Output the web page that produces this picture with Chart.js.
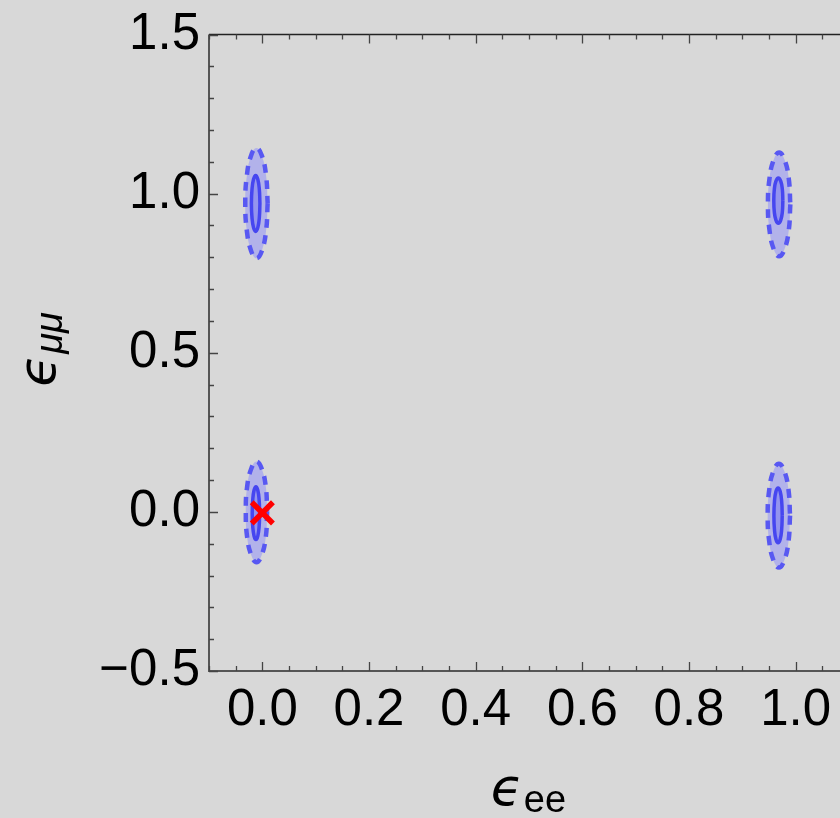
<!DOCTYPE html>
<html>
<head>
<meta charset="utf-8">
<script src="https://cdn.jsdelivr.net/npm/chart.js@4.4.0/dist/chart.umd.min.js"></script>
<style>
  html, body { margin: 0; padding: 0; overflow: hidden; background: #d8d8d8; }
  #wrap { width: 870px; height: 818px; }
</style>
</head>
<body>
<div id="wrap"><canvas id="c" width="870" height="818"></canvas></div>
<script>
// ---- Tick labels ----
const xTickValues = [0.0, 0.2, 0.4, 0.6, 0.8, 1.0];
const yTickValues = [-0.5, 0.0, 0.5, 1.0, 1.5];
const xRange = [-0.1, 1.1];
const yRange = [-0.5, 1.5];

// ---- Contours, each loop starts on its right side ----
// top-left region (eps_ee ~ 0, eps_mumu ~ 1)
const tlOuterX = [0.010, 0.007, -0.001, -0.011, -0.021, -0.029, -0.032, -0.029, -0.021, -0.011, -0.001, 0.007, 0.010];
const tlOuterY = [0.970, 0.883, 0.820, 0.797, 0.820, 0.883, 0.970, 1.057, 1.120, 1.143, 1.120, 1.057, 0.970];
const tlInnerX = [-0.0045, -0.0056, -0.0085, -0.0125, -0.0165, -0.0194, -0.0205, -0.0194, -0.0165, -0.0125, -0.0085, -0.0056, -0.0045];
const tlInnerY = [0.969, 0.925, 0.893, 0.881, 0.893, 0.925, 0.969, 1.013, 1.045, 1.057, 1.045, 1.013, 0.969];
// bottom-left region (0, 0)
const blOuterX = [0.009, 0.0065, -0.0015, -0.011, -0.0205, -0.0285, -0.031, -0.0285, -0.0205, -0.011, -0.0015, 0.0065, 0.009];
const blOuterY = [0.000, -0.079, -0.137, -0.158, -0.137, -0.079, 0.000, 0.079, 0.137, 0.158, 0.137, 0.079, 0.000];
const blInnerX = [-0.005, -0.006, -0.0085, -0.012, -0.0155, -0.018, -0.019, -0.018, -0.0155, -0.012, -0.0085, -0.006, -0.005];
const blInnerY = [-0.004, -0.046, -0.076, -0.087, -0.076, -0.046, -0.004, 0.038, 0.068, 0.079, 0.068, 0.038, -0.004];
// top-right region (1, 1)
const trOuterX = [0.990, 0.987, 0.979, 0.969, 0.959, 0.951, 0.948, 0.951, 0.959, 0.969, 0.979, 0.987, 0.990];
const trOuterY = [0.966, 0.884, 0.825, 0.803, 0.825, 0.884, 0.966, 1.048, 1.107, 1.129, 1.107, 1.048, 0.966];
const trInnerX = [0.976, 0.975, 0.972, 0.9675, 0.963, 0.960, 0.959, 0.960, 0.963, 0.9675, 0.972, 0.975, 0.976];
const trInnerY = [0.978, 0.942, 0.917, 0.907, 0.917, 0.942, 0.978, 1.014, 1.039, 1.049, 1.039, 1.014, 0.978];
// bottom-right region (1, 0)
const brOuterX = [0.9895, 0.9865, 0.9785, 0.9685, 0.9585, 0.9505, 0.9475, 0.9505, 0.9585, 0.9685, 0.9785, 0.9865, 0.9895];
const brOuterY = [-0.012, -0.094, -0.153, -0.175, -0.153, -0.094, -0.012, 0.070, 0.129, 0.151, 0.129, 0.070, -0.012];
const brInnerX = [0.9748, 0.9738, 0.971, 0.967, 0.963, 0.9602, 0.9592, 0.9602, 0.963, 0.967, 0.971, 0.9738, 0.9748];
const brInnerY = [-0.011, -0.054, -0.086, -0.097, -0.086, -0.054, -0.011, 0.032, 0.064, 0.075, 0.064, 0.032, -0.011];

// true point
const truePointX = [0.0];
const truePointY = [-0.003];

const xTitle = 'ϵ', xTitleSub = 'ee';
const yTitle = 'ϵ', yTitleSub = 'μμ';

function pts(xs, ys) { return xs.map((x, i) => ({ x: x, y: ys[i] })); }

const OUTER_FILL = 'rgb(178,178,234)';
const INNER_FILL = 'rgb(148,148,238)';
const OUTER_LINE = 'rgb(88,88,242)';
const INNER_LINE = 'rgb(70,70,240)';

function outerDs(xs, ys) {
  return { data: pts(xs, ys), showLine: true, fill: 'shape', backgroundColor: OUTER_FILL,
    borderColor: OUTER_LINE, borderWidth: 4.5, borderDash: [9, 7], tension: 0.45,
    pointRadius: 0, order: 3 };
}
function innerDs(xs, ys) {
  return { data: pts(xs, ys), showLine: true, fill: 'shape', backgroundColor: INNER_FILL,
    borderColor: INNER_LINE, borderWidth: 3.5, tension: 0.45, pointRadius: 0, order: 2 };
}

const framePlugin = {
  id: 'frame',
  afterDatasetsDraw(chart) {
    const ctx = chart.ctx, a = chart.chartArea;
    const xs = chart.scales.x, ys = chart.scales.y;
    ctx.save();
    ctx.strokeStyle = '#555';
    ctx.lineWidth = 2;
    ctx.beginPath();
    ctx.moveTo(a.left, a.top); ctx.lineTo(a.left, a.bottom); ctx.lineTo(a.right, a.bottom);
    ctx.stroke();
    ctx.strokeStyle = '#222';
    ctx.lineWidth = 1.5;
    ctx.beginPath();
    ctx.moveTo(a.left, a.top); ctx.lineTo(a.right, a.top); ctx.lineTo(a.right, a.bottom);
    ctx.stroke();
    ctx.strokeStyle = '#444';
    ctx.lineWidth = 1.3;
    ctx.beginPath();
    for (let i = -2; i <= 22; i++) {
      const v = i * 0.05;
      if (v < xRange[0] - 1e-9 || v > xRange[1] + 1e-9) continue;
      const major = i % 4 === 0;
      const L = major ? 9 : 5;
      const px = Math.round(xs.getPixelForValue(v)) + 0.5;
      ctx.moveTo(px, a.bottom); ctx.lineTo(px, a.bottom - L);
      ctx.moveTo(px, a.top); ctx.lineTo(px, a.top + L);
    }
    for (let i = -5; i <= 15; i++) {
      const v = i * 0.1;
      const major = (i % 5 === 0);
      const L = major ? 9 : 5;
      const py = Math.round(ys.getPixelForValue(v)) + 0.5;
      ctx.moveTo(a.left, py); ctx.lineTo(a.left + L, py);
      ctx.moveTo(a.right, py); ctx.lineTo(a.right - L, py);
    }
    ctx.stroke();
    ctx.restore();
  },
  afterDraw(chart) {
    const ctx = chart.ctx;
    ctx.save();
    ctx.fillStyle = '#000';
    ctx.textBaseline = 'alphabetic';
    ctx.font = 'italic 52px "DejaVu Sans"';
    ctx.textAlign = 'left';
    const w1 = ctx.measureText(xTitle).width;
    ctx.font = '38px "Liberation Sans"';
    const w2 = ctx.measureText(xTitleSub).width;
    const xStart = 528 - (w1 + w2) / 2;
    ctx.font = 'italic 52px "DejaVu Sans"';
    ctx.fillText(xTitle, xStart, 805);
    ctx.font = '38px "Liberation Sans"';
    ctx.fillText(xTitleSub, xStart + w1 + 1, 812);
    ctx.translate(55, 350);
    ctx.rotate(-Math.PI / 2);
    ctx.font = 'italic 52px "DejaVu Sans"';
    const v1 = ctx.measureText(yTitle).width;
    ctx.font = 'italic 38px "Liberation Sans"';
    const v2 = ctx.measureText(yTitleSub).width;
    const s = -(v1 + v2) / 2;
    ctx.font = 'italic 52px "DejaVu Sans"';
    ctx.fillText(yTitle, s, 0);
    ctx.font = 'italic 38px "Liberation Sans"';
    ctx.fillText(yTitleSub, s + v1 + 1, 7);
    ctx.restore();
  }
};

const xTickFont = { family: '"Liberation Sans", Arial, sans-serif', size: 51 };
const yTickFont = { family: '"Liberation Sans", Arial, sans-serif', size: 51, lineHeight: 1.0 };

new Chart(document.getElementById('c'), {
  type: 'scatter',
  data: {
    datasets: [
      outerDs(tlOuterX, tlOuterY), innerDs(tlInnerX, tlInnerY),
      outerDs(blOuterX, blOuterY), innerDs(blInnerX, blInnerY),
      outerDs(trOuterX, trOuterY), innerDs(trInnerX, trInnerY),
      outerDs(brOuterX, brOuterY), innerDs(brInnerX, brInnerY),
      { data: pts(truePointX, truePointY), pointStyle: 'crossRot', pointRadius: 15,
        borderColor: 'rgb(255,0,0)', borderWidth: 5.5, backgroundColor: 'rgb(255,0,0)', order: 1 }
    ]
  },
  options: {
    responsive: false,
    animation: false,
    devicePixelRatio: 1,
    layout: { padding: { top: 34, right: 21, left: 0, bottom: 0 } },
    plugins: { legend: { display: false }, tooltip: { enabled: false } },
    scales: {
      x: {
        type: 'linear', min: xRange[0], max: xRange[1],
        afterBuildTicks: (sc) => { sc.ticks = xTickValues.map(v => ({ value: v })); },
        afterFit: (sc) => { sc.height = 147; },
        grid: { display: false, drawTicks: false },
        border: { display: false },
        ticks: { font: xTickFont, color: '#000', padding: 9, maxRotation: 0, autoSkip: false,
          callback: (v) => Number(v).toFixed(1) }
      },
      y: {
        type: 'linear', min: yRange[0], max: yRange[1],
        afterBuildTicks: (sc) => { sc.ticks = yTickValues.map(v => ({ value: v })); },
        afterFit: (sc) => { sc.width = 209; },
        grid: { display: false, drawTicks: false },
        border: { display: false },
        ticks: { font: yTickFont, color: '#000', padding: 9, autoSkip: false,
          callback: (v) => (v < 0 ? '\u2212' : '') + Math.abs(Number(v)).toFixed(1) }
      }
    }
  },
  plugins: [framePlugin]
});
</script>
</body>
</html>
